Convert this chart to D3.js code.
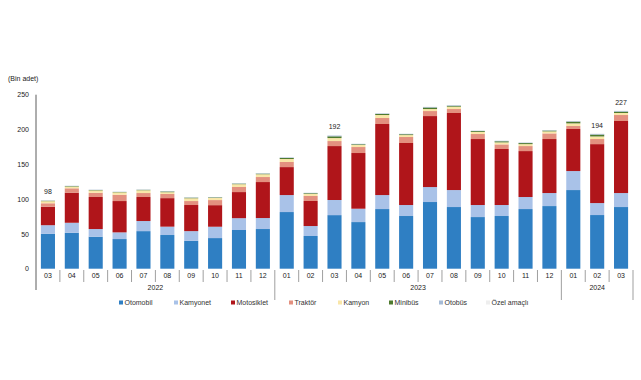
<!DOCTYPE html>
<html><head><meta charset="utf-8">
<script src="https://cdn.jsdelivr.net/npm/d3@7"></script>
<style>body{margin:0;background:#fff}svg{display:block;font-family:"Liberation Sans",Arial,sans-serif}</style>
</head><body><svg id="c" width="641" height="380"></svg>
<script>
const months = ["03","04","05","06","07","08","09","10","11","12","01","02","03","04","05","06","07","08","09","10","11","12","01","02","03"];
const yearGroups = [{year:"2022",from:0,to:9},{year:"2023",from:10,to:21},{year:"2024",from:22,to:24}];
const seriesNames = ["Otomobil","Kamyonet","Motosiklet","Traktör","Kamyon","Minibüs","Otobüs","Özel amaçlı"];
const colors = ["#2f7fc3","#a9c2e8","#b0151a","#e3907f","#f9e6a8","#4e7a2e","#a6bbd6","#eeeeee"];
const otomobil   = [50,51.5,46,42.6,54,48.4,40,44,55.6,57,81.4,47,77,67,85.7,75.7,95.8,88.6,74.2,75.7,85.7,90,113,77.1,88.6];
const kamyonet   = [12.5,14.5,11,9.6,14.5,12,14,16.3,17,15.8,24.4,14.3,21.7,19.2,20.1,15.8,21.5,24.4,17.3,15.8,17.3,18.7,27.3,17.2,20.1];
const motosiklet = [26.5,43,46,45,34.5,41,37.5,31,37.5,51.7,40.2,36,77.5,80,102.1,89.1,102,110.7,94.8,80.5,66,77.6,60.4,84.7,103.5];
const traktor    = [5,6.5,6,9,5.7,6,5.7,7.3,7.3,7.2,7.3,7.2,7.2,8.6,8.6,8.6,7.2,5.7,7.2,6.6,7.2,8.1,4.3,7.3,8.6];
const kamyon     = [3,2.5,3.5,3.5,4,2.5,4,3,4,4,4.3,3,4.3,3,4.3,2.8,2.9,3.4,2.9,2.9,2.8,2.9,3.8,3.7,2.9];
const minibus    = [0.6,0.7,0.6,0.5,0.6,1.0,0.8,0.8,0.8,0.9,1.5,1.0,2.5,1.0,1.6,1.2,2.2,1.3,1.3,1.6,1.5,1.2,2.5,2.7,2.0];
const otobus     = [0.3,0.4,0.4,0.4,0.4,0.5,0.5,0.4,0.5,0.6,0.8,0.5,1.2,0.6,0.8,0.6,0.8,0.8,0.6,0.7,0.7,0.6,0.8,1.0,1.0];
const ozelAmacli = [0.1,0.1,0.1,0.1,0.1,0.1,0.1,0.1,0.1,0.2,0.2,0.1,0.3,0.1,0.3,0.2,0.3,0.2,0.2,0.2,0.2,0.2,0.2,0.3,0.3];
const totalLabels = [{i:0,text:"98"},{i:12,text:"192"},{i:23,text:"194"},{i:24,text:"227"}];
const yTicks = [0,50,100,150,200,250];

const seriesValues = [otomobil,kamyonet,motosiklet,traktor,kamyon,minibus,otobus,ozelAmacli];
const rows = months.map((m,i)=>{const r={i};seriesNames.forEach((s,k)=>r[s]=seriesValues[k][i]);return r;});
const stacked = d3.stack().keys(seriesNames)(rows);

const svg = d3.select("#c");
const x = d3.scaleBand().domain(d3.range(months.length)).range([36,633]).paddingInner(0.41).paddingOuter(0.205);
const y = d3.scaleLinear().domain([0,250]).range([268.7,94.7]);
const gap = x.step()-x.bandwidth();
const col = d3.scaleOrdinal().domain(seriesNames).range(colors);
const FS = 7;

svg.append("text").attr("x",8).attr("y",80.5).attr("font-size",FS).attr("fill","#222").text("(Bin adet)");

// y axis
const ya = svg.append("g").attr("transform","translate(36,0)")
  .call(d3.axisLeft(y).tickValues(yTicks).tickSize(0).tickPadding(7));
ya.select(".domain").remove();
ya.selectAll("text").attr("font-size",FS).attr("fill","#222").attr("font-family","Liberation Sans, Arial, sans-serif");
svg.append("line").attr("x1",36).attr("x2",36).attr("y1",y(250)).attr("y2",290).attr("stroke","#333").attr("stroke-width",0.8);

// bars
svg.append("g").selectAll("g").data(stacked).join("g").attr("fill",d=>col(d.key))
  .selectAll("rect").data(d=>d).join("rect")
  .attr("x",d=>x(d.data.i)).attr("width",x.bandwidth())
  .attr("y",d=>y(d[1])).attr("height",d=>Math.max(0,y(d[0])-y(d[1])));

// totals
const totals = rows.map(r=>d3.sum(seriesNames,s=>r[s]));
svg.append("g").selectAll("text").data(totalLabels).join("text")
  .attr("x",d=>x(d.i)+x.bandwidth()/2).attr("y",d=>y(totals[d.i])-6)
  .attr("text-anchor","middle").attr("font-size",FS).attr("fill","#222").text(d=>d.text);

// x axis month labels & separators
const xa = svg.append("g");
xa.selectAll("text").data(months).join("text")
  .attr("x",(d,i)=>x(i)+x.bandwidth()/2).attr("y",277.8).attr("text-anchor","middle")
  .attr("font-size",FS).attr("fill","#222").text(d=>d);
const groupStarts = new Set(yearGroups.map(g=>g.from));
xa.selectAll("line.sep").data(d3.range(1,months.length).filter(i=>!groupStarts.has(i))).join("line")
  .attr("x1",i=>x(i)-gap/2).attr("x2",i=>x(i)-gap/2).attr("y1",270).attr("y2",282)
  .attr("stroke","#777").attr("stroke-width",0.7);
const bounds = yearGroups.map(g=>g.from).filter(i=>i>0).map(i=>x(i)-gap/2).concat([x(months.length-1)+x.bandwidth()+gap/2]);
xa.selectAll("line.ysep").data(bounds).join("line")
  .attr("x1",d=>d).attr("x2",d=>d).attr("y1",270).attr("y2",300)
  .attr("stroke","#777").attr("stroke-width",0.7);
xa.selectAll("text.year").data(yearGroups).join("text").attr("class","year")
  .attr("x",g=>(x(g.from)+x(g.to)+x.bandwidth())/2).attr("y",289.8).attr("text-anchor","middle")
  .attr("font-size",FS).attr("fill","#222").text(g=>g.year);

// legend
const legX = [120,175,232,290,339,390,440,487];
const lg = svg.append("g").selectAll("g").data(seriesNames).join("g")
  .attr("transform",(d,i)=>`translate(${legX[i]},302.5)`);
lg.append("rect").attr("x",-1).attr("y",-2).attr("width",4).attr("height",4).attr("fill",d=>col(d));
lg.append("text").attr("x",4.5).attr("y",2.4).attr("font-size",FS).attr("fill","#333").text(d=>d);
</script></body></html>
